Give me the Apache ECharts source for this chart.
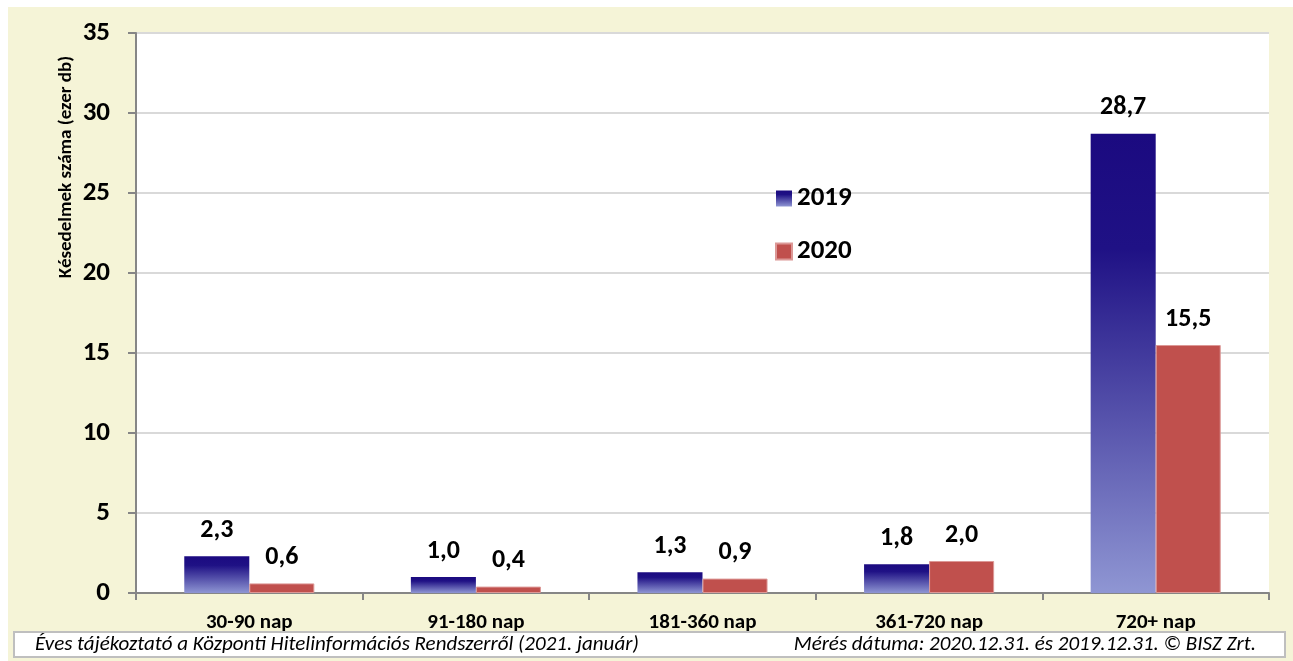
<!DOCTYPE html>
<html>
<head>
<meta charset="utf-8">
<script src="https://cdn.jsdelivr.net/npm/echarts@6/dist/echarts.min.js"></script>
<style>
  html, body { margin: 0; padding: 0; background: #ffffff; }
  #chart { width: 1293px; height: 661px; }
</style>
</head>
<body>
<div id="chart"></div>
<script>
// Késedelmek száma késedelmi idősávonként (ezer db)
const categories = ['30-90 nap', '91-180 nap', '181-360 nap', '361-720 nap', '720+ nap'];
const values2019 = [2.3, 1.0, 1.3, 1.8, 28.7];
const values2020 = [0.6, 0.4, 0.9, 2.0, 15.5];
const seriesNames = ['2019', '2020'];
const yAxisTitle = 'Késedelmek száma (ezer db)';
const footerLeft = 'Éves tájékoztató a Központi Hitelinformációs Rendszerről (2021. január)';
const footerRight = 'Mérés dátuma: 2020.12.31. és 2019.12.31. © BISZ Zrt.';

const FONT = 'Carlito, Lato, "Open Sans", sans-serif';
const fmt = v => v.toFixed(1).replace('.', ',');

const chart = echarts.init(document.getElementById('chart'), null, { renderer: 'canvas' });

const blueGradient = new echarts.graphic.LinearGradient(0, 0, 0, 1, [
  { offset: 0, color: '#1b0a80' },
  { offset: 0.25, color: '#1f1185' },
  { offset: 1, color: '#8f96d3' }
]);

const valueLabel = {
  show: true,
  position: 'top',
  distance: 13,
  fontFamily: FONT,
  fontWeight: 'bold',
  fontSize: 26,
  color: '#000',
  formatter: p => fmt(p.value)
};

chart.setOption({
  backgroundColor: '#f5f4d7',
  animation: false,
  textStyle: { fontFamily: FONT },
  grid: {
    left: 136, right: 24, top: 33, bottom: 68,
    show: true, backgroundColor: '#ffffff', borderWidth: 0
  },
  legend: {
    orient: 'vertical',
    left: 770,
    top: 180,
    icon: 'rect',
    itemWidth: 16,
    itemHeight: 16,
    itemGap: 26,
    data: seriesNames,
    textStyle: { fontFamily: FONT, fontWeight: 'bold', fontSize: 27, color: '#000' }
  },
  xAxis: {
    type: 'category',
    data: categories,
    axisLine: { lineStyle: { color: '#868686', width: 2 } },
    axisTick: { show: true, length: 7, alignWithLabel: false, lineStyle: { color: '#868686', width: 2 } },
    axisLabel: { fontFamily: FONT, fontWeight: 'bold', fontSize: 21, color: '#000', margin: 19 }
  },
  yAxis: {
    type: 'value',
    min: 0, max: 35, interval: 5,
    axisLine: { show: true, lineStyle: { color: '#868686', width: 2 } },
    axisTick: { show: true, length: 8, lineStyle: { color: '#868686', width: 2 } },
    axisLabel: { fontFamily: FONT, fontWeight: 'bold', fontSize: 27, color: '#000', margin: 26 },
    splitLine: { lineStyle: { color: '#d9d9d9', width: 2 } }
  },
  series: [
    {
      name: seriesNames[0],
      type: 'bar',
      data: values2019,
      barWidth: '28.7%',
      barGap: '0%',
      itemStyle: { color: blueGradient },
      label: valueLabel
    },
    {
      name: seriesNames[1],
      type: 'bar',
      data: values2020,
      barWidth: '28.7%',
      itemStyle: { color: '#c0504d', borderColor: '#dc9896', borderWidth: 1 },
      label: valueLabel
    }
  ],
  graphic: [
    // white margin strips on the top and left
    { type: 'rect', shape: { x: 0, y: 0, width: 1293, height: 7 }, style: { fill: '#ffffff' }, silent: true },
    { type: 'rect', shape: { x: 0, y: 0, width: 8, height: 661 }, style: { fill: '#ffffff' }, silent: true },
    {
      type: 'text',
      x: 66, y: 167,
      rotation: Math.PI / 2,
      style: {
        text: yAxisTitle,
        fontFamily: FONT, fontWeight: 'bold', fontSize: 19, fill: '#000',
        align: 'center', verticalAlign: 'middle'
      }
    },
    // source / date footer box
    {
      type: 'rect',
      shape: { x: 14, y: 632, width: 1271, height: 25 },
      style: { fill: '#ffffff', stroke: '#bfbfbf', lineWidth: 2 }
    },
    {
      type: 'text', x: 35, y: 645,
      style: { text: footerLeft, fontFamily: FONT, fontStyle: 'italic', fontSize: 21, fill: '#000', align: 'left', verticalAlign: 'middle' }
    },
    {
      type: 'text', x: 1256, y: 645,
      style: { text: footerRight, fontFamily: FONT, fontStyle: 'italic', fontSize: 21, fill: '#000', align: 'right', verticalAlign: 'middle' }
    }
  ]
});
</script>
</body>
</html>
